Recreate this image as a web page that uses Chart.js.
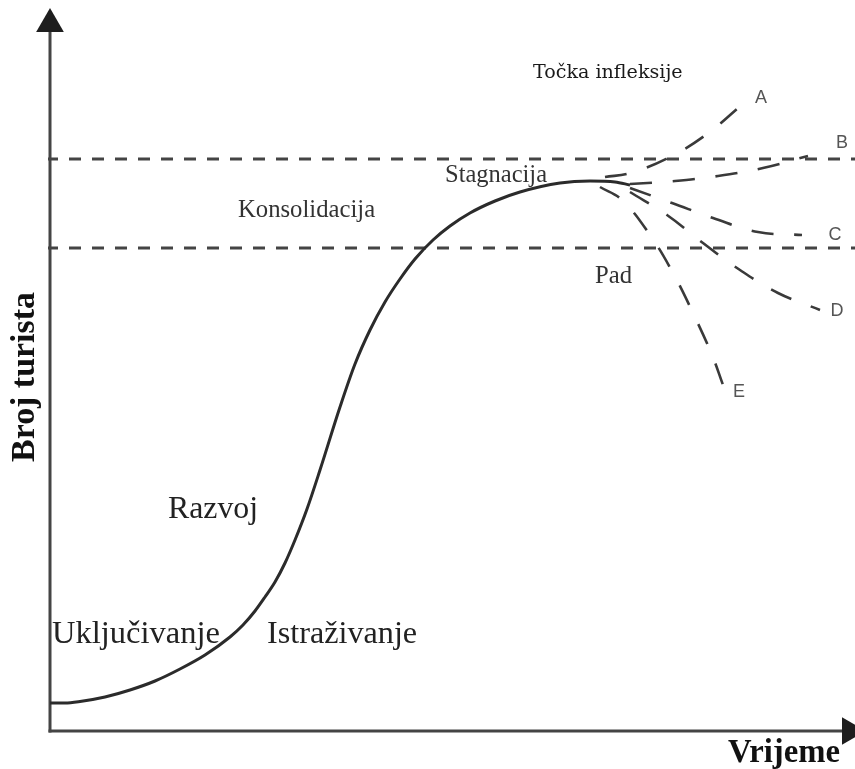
<!DOCTYPE html>
<html>
<head>
<meta charset="utf-8">
<script src="https://cdn.jsdelivr.net/npm/chart.js@4/dist/chart.umd.min.js"></script>
<style>
html,body{margin:0;padding:0;background:#fff;}
#wrap{width:855px;height:769px;}
</style>
</head>
<body>
<div id="wrap"><canvas id="c" width="855" height="769"></canvas></div>
<script>
// ---- data (time on x, number of tourists on y, arbitrary units) ----
const curveTime     = [0, 15, 30, 55, 80, 105, 130, 155, 180, 193, 205, 215, 225, 235, 245, 257, 270, 290, 305, 320, 335, 350, 365, 383, 400, 420, 445, 470, 510, 540, 565, 580];
const curveTourists = [28, 28, 29.5, 34, 41, 50, 62, 76, 94, 106, 120, 134, 149, 168, 191, 222, 261, 324, 367, 401, 429, 452, 472, 491, 505, 518, 530, 539, 548, 550, 549, 546];

const guideLevels = [572, 483];          // upper / lower capacity band
const guideSpan   = [-2, 805];

const branchATime = [555, 580, 618, 657, 695];
const branchAVal  = [554, 558, 573, 597, 629];
const branchBTime = [580, 625, 668, 713, 758];
const branchBVal  = [547, 550, 555, 563, 575];
const branchCTime = [580, 622, 663, 708, 752];
const branchCVal  = [543, 528, 513, 499, 496];
const branchDTime = [580, 617, 653, 690, 728, 770];
const branchDVal  = [539, 516, 488, 461, 438, 421];
const branchETime = [550, 572, 600, 623, 643, 662, 673];
const branchEVal  = [544, 531, 496, 458, 418, 376, 346];

const branchNames = ['A', 'B', 'C', 'D', 'E'];
const axisTitleX = 'Vrijeme';
const axisTitleY = 'Broj turista';
const stageNames = ['Točka infleksije', 'Stagnacija', 'Konsolidacija', 'Pad', 'Razvoj', 'Uključivanje', 'Istraživanje'];

// ---- helpers ----
const zip = (xs, ys) => xs.map((v, i) => ({x: v, y: ys[i]}));
const DARK = '#2b2b2b';
const DASH = '#3a3a3a';

function branch(xs, ys) {
  return {
    data: zip(xs, ys), borderColor: DASH, borderWidth: 2.6, borderDash: [22, 21],
    tension: 0.4, pointRadius: 0, fill: false, clip: false
  };
}

const datasets = [
  { // main life-cycle curve
    data: zip(curveTime, curveTourists), borderColor: DARK, borderWidth: 3,
    cubicInterpolationMode: 'monotone', pointRadius: 0, fill: false, clip: false
  },
  branch(branchATime, branchAVal),
  branch(branchBTime, branchBVal),
  branch(branchCTime, branchCVal),
  branch(branchDTime, branchDVal),
  branch(branchETime, branchEVal),
  ...guideLevels.map(l => ({
    data: [{x: guideSpan[0], y: l}, {x: guideSpan[1], y: l}],
    borderColor: '#444', borderWidth: 3.2, borderDash: [12, 11], borderDashOffset: 2,
    pointRadius: 0, fill: false, clip: false
  })),
  { // y axis with arrow
    data: [{x: 0, y: -1.5}, {x: 0, y: 707}], borderColor: '#444', borderWidth: 3,
    pointRadius: [0, 16], pointStyle: 'triangle', pointRotation: 0,
    pointBackgroundColor: '#1e1e1e', pointBorderWidth: 0, pointHoverRadius: 0, fill: false, clip: false
  },
  { // x axis with arrow
    data: [{x: -1.5, y: 0}, {x: 800, y: 0}], borderColor: '#444', borderWidth: 3,
    pointRadius: [0, 16], pointStyle: 'triangle', pointRotation: 90,
    pointBackgroundColor: '#1e1e1e', pointBorderWidth: 0, pointHoverRadius: 0, fill: false, clip: false
  }
];

function fitSize(ctx, text, weight, family, width) {
  ctx.font = weight + ' 100px ' + family;
  return 100 * width / ctx.measureText(text).width;
}

const labelPlugin = {
  id: 'labels',
  afterDatasetsDraw(chart) {
    const {ctx, scales: {x, y}} = chart;
    const SERIF = '"Liberation Serif", "Times New Roman", serif';
    const SLAB = '"DejaVu Serif", serif';
    const SANS = '"Liberation Sans", Arial, sans-serif';
    ctx.save();
    ctx.textBaseline = 'alphabetic';
    ctx.textAlign = 'left';
    const items = [
      [stageNames[0], 483, 653, 150, 'normal', SLAB, '#1a1a1a'],
      [stageNames[1], 395, 549, 102, 'normal', SERIF, '#333'],
      [stageNames[2], 188, 514, 137, 'normal', SERIF, '#333'],
      [stageNames[3], 545, 448, 37, 'normal', SERIF, '#333'],
      [stageNames[4], 118, 213, 90, 'normal', SERIF, '#222'],
      [stageNames[5], 2, 88, 168, 'normal', SERIF, '#222'],
      [stageNames[6], 217, 88, 150, 'normal', SERIF, '#222'],
      [axisTitleX, 678, -31, 112, 'bold', SERIF, '#111']
    ];
    for (const [t, vx, vy, w, wt, fam, col] of items) {
      const s = fitSize(ctx, t, wt, fam, w);
      ctx.font = wt + ' ' + s.toFixed(1) + 'px ' + fam;
      ctx.fillStyle = col;
      ctx.fillText(t, x.getPixelForValue(vx), y.getPixelForValue(vy));
    }
    // vertical axis title
    const s = fitSize(ctx, axisTitleY, 'bold', SERIF, 170);
    ctx.font = 'bold ' + s.toFixed(1) + 'px ' + SERIF;
    ctx.fillStyle = '#111';
    ctx.save();
    ctx.translate(x.getPixelForValue(-16), y.getPixelForValue(354));
    ctx.rotate(-Math.PI / 2);
    ctx.textAlign = 'center';
    ctx.fillText(axisTitleY, 0, 0);
    ctx.restore();
    // branch letters
    const pos = [[711, 633], [792, 588], [785, 496], [787, 420], [689, 339]];
    ctx.font = '18px ' + SANS;
    ctx.fillStyle = '#555';
    ctx.textAlign = 'center';
    ctx.textBaseline = 'middle';
    branchNames.forEach((n, i) => ctx.fillText(n, x.getPixelForValue(pos[i][0]), y.getPixelForValue(pos[i][1])));
    ctx.restore();
  }
};

new Chart(document.getElementById('c'), {
  type: 'line',
  data: {datasets},
  options: {
    responsive: false,
    animation: false,
    events: [],
    layout: {padding: 0, autoPadding: false},
    plugins: {legend: {display: false}, tooltip: {enabled: false}},
    scales: {
      x: {type: 'linear', min: -50, max: 805, display: false},
      y: {type: 'linear', min: -38, max: 731, display: false}
    }
  },
  plugins: [labelPlugin]
});
</script>
</body>
</html>
